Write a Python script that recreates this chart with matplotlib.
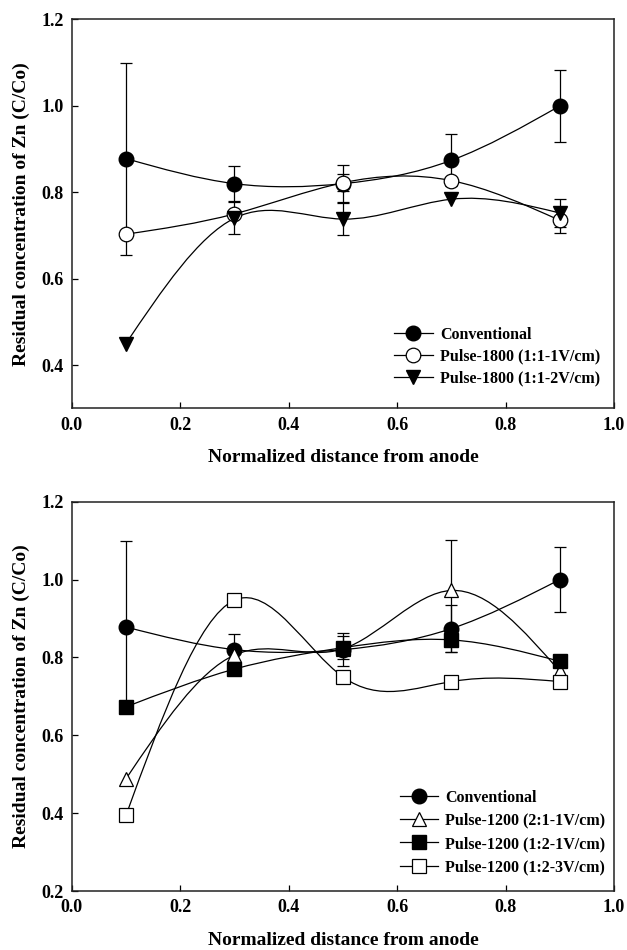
import numpy as np
import matplotlib
matplotlib.use('Agg')
import matplotlib.pyplot as plt
from matplotlib.path import Path
from matplotlib.patches import PathPatch
from matplotlib.lines import Line2D

plt.rcParams['font.family'] = ['Liberation Serif', 'DejaVu Serif']
plt.rcParams['font.weight'] = 'bold'

# data
distance = [0.1, 0.3, 0.5, 0.7, 0.9]

conventional = [0.878, 0.820, 0.820, 0.874, 1.000]
conventional_err = [0.222, 0.040, 0.043, 0.060, 0.084]

pulse1800_1v = [0.703, 0.750, 0.822, 0.827, 0.735]
pulse1800_1v_err = [0, 0, 0.020, 0, 0.030]
pulse1800_2v = [0.450, 0.740, 0.738, 0.784, 0.752]
pulse1800_2v_err = [0, 0.037, 0.038, 0, 0.033]

pulse1200_21_1v = [0.488, 0.806, 0.822, 0.972, 0.764]
pulse1200_21_1v_err = [0, 0, 0, 0.130, 0]
pulse1200_12_1v = [0.673, 0.770, 0.825, 0.845, 0.790]
pulse1200_12_1v_err = [0, 0, 0.030, 0.030, 0]
pulse1200_12_3v = [0.394, 0.947, 0.750, 0.738, 0.738]

top_labels = ['Conventional', 'Pulse-1800 (1:1-1V/cm)', 'Pulse-1800 (1:1-2V/cm)']
bottom_labels = ['Conventional', 'Pulse-1200 (2:1-1V/cm)',
                 'Pulse-1200 (1:2-1V/cm)', 'Pulse-1200 (1:2-3V/cm)']


def spline_path(x, y):
    # natural cubic spline drawn as bezier segments
    x = np.asarray(x, float)
    y = np.asarray(y, float)
    n = len(x)
    h = np.diff(x)
    A = np.zeros((n, n))
    b = np.zeros(n)
    A[0, 0] = A[-1, -1] = 1
    for i in range(1, n - 1):
        A[i, i - 1] = h[i - 1]
        A[i, i] = 2 * (h[i - 1] + h[i])
        A[i, i + 1] = h[i]
        b[i] = 6 * ((y[i + 1] - y[i]) / h[i] - (y[i] - y[i - 1]) / h[i - 1])
    M = np.linalg.solve(A, b)
    verts = [(x[0], y[0])]
    codes = [Path.MOVETO]
    for i in range(n - 1):
        d = (y[i + 1] - y[i]) / h[i]
        s0 = d - h[i] * (2 * M[i] + M[i + 1]) / 6
        s1 = d + h[i] * (M[i] + 2 * M[i + 1]) / 6
        verts += [(x[i] + h[i] / 3, y[i] + s0 * h[i] / 3),
                  (x[i + 1] - h[i] / 3, y[i + 1] - s1 * h[i] / 3),
                  (x[i + 1], y[i + 1])]
        codes += [Path.CURVE4] * 3
    return Path(verts, codes)


def draw_series(ax, y, err, style):
    ax.add_patch(PathPatch(spline_path(distance, y), fill=False,
                           edgecolor='black', lw=0.9, zorder=2))
    if err is not None:
        xs = [d for d, e in zip(distance, err) if e > 0]
        ys = [v for v, e in zip(y, err) if e > 0]
        es = [e for e in err if e > 0]
        ax.errorbar(xs, ys, yerr=es, fmt='none', ecolor='black',
                    elinewidth=0.9, capsize=4, capthick=0.9, zorder=1)
    ax.plot(distance, y, linestyle='none', zorder=3, **style)


def style_axes(ax, ylim, yticks):
    ax.set_xlim(0, 1.0)
    ax.set_ylim(*ylim)
    ax.set_xticks(np.arange(0, 1.01, 0.2))
    ax.set_yticks(yticks)
    ax.xaxis.set_major_formatter(matplotlib.ticker.FormatStrFormatter('%.1f'))
    ax.yaxis.set_major_formatter(matplotlib.ticker.FormatStrFormatter('%.1f'))
    ax.tick_params(direction='in', length=4, width=0.9, labelsize=13,
                   top=False, right=False)
    ax.tick_params(axis='x', pad=6)
    ax.tick_params(axis='y', pad=6)
    for s in ax.spines.values():
        s.set_linewidth(1.1)
        s.set_color('#222222')
    ax.set_xlabel('Normalized distance from anode', fontsize=14,
                  fontweight='bold', labelpad=11)
    ax.set_ylabel('Residual concentration of Zn (C/Co)', fontsize=14,
                  fontweight='bold', labelpad=8)


filled_circle = dict(marker='o', markersize=10.5, markerfacecolor='black', markeredgecolor='black')
open_circle = dict(marker='o', markersize=10.5, markerfacecolor='white', markeredgecolor='black', markeredgewidth=0.9)
filled_tri = dict(marker='v', markersize=10.5, markerfacecolor='black', markeredgecolor='black')
open_tri = dict(marker='^', markersize=10.5, markerfacecolor='white', markeredgecolor='black', markeredgewidth=0.9)
filled_sq = dict(marker='s', markersize=9.5, markerfacecolor='black', markeredgecolor='black')
open_sq = dict(marker='s', markersize=9.5, markerfacecolor='white', markeredgecolor='black', markeredgewidth=0.9)

fig = plt.figure(figsize=(6.27, 9.5), dpi=100)
ax1 = fig.add_axes([0.1144, 0.5702, 0.865, 0.4093])
ax2 = fig.add_axes([0.1144, 0.0621, 0.865, 0.4098])

# top panel
draw_series(ax1, conventional, conventional_err, filled_circle)
draw_series(ax1, pulse1800_1v, pulse1800_1v_err, open_circle)
draw_series(ax1, pulse1800_2v, pulse1800_2v_err, filled_tri)
style_axes(ax1, (0.3, 1.2), [0.4, 0.6, 0.8, 1.0, 1.2])
handles = [Line2D([], [], color='black', lw=0.9, **s)
           for s in (filled_circle, open_circle, filled_tri)]
ax1.legend(handles, top_labels, loc='lower left', bbox_to_anchor=(0.58, 0.035),
           frameon=False, handlelength=2.4, handletextpad=0.45,
           labelspacing=0.38, borderpad=0, prop={'weight': 'bold', 'size': 11.5})

# bottom panel
draw_series(ax2, conventional, conventional_err, filled_circle)
draw_series(ax2, pulse1200_21_1v, pulse1200_21_1v_err, open_tri)
draw_series(ax2, pulse1200_12_1v, pulse1200_12_1v_err, filled_sq)
draw_series(ax2, pulse1200_12_3v, None, open_sq)
style_axes(ax2, (0.2, 1.2), [0.2, 0.4, 0.6, 0.8, 1.0, 1.2])
handles = [Line2D([], [], color='black', lw=0.9, **s)
           for s in (filled_circle, open_tri, filled_sq, open_sq)]
ax2.legend(handles, bottom_labels, loc='lower left', bbox_to_anchor=(0.59, 0.02),
           frameon=False, handlelength=2.4, handletextpad=0.45,
           labelspacing=0.45, borderpad=0, prop={'weight': 'bold', 'size': 11.5})

fig.savefig('out.png', dpi=100)
